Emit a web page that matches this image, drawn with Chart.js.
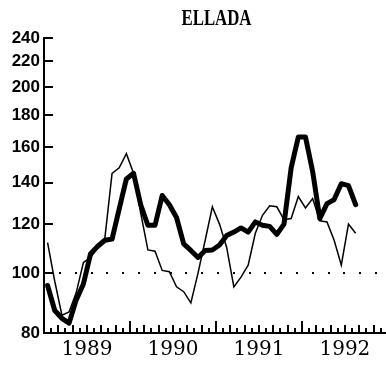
<!DOCTYPE html>
<html>
<head>
<meta charset="utf-8">
<script src="https://cdn.jsdelivr.net/npm/chart.js@4.4.0/dist/chart.umd.min.js"></script>
<style>
  html, body { margin: 0; padding: 0; background: #fff; }
</style>
</head>
<body>
<canvas id="chart" width="386" height="365"></canvas>
<script>
const title = "ELLADA"
const years = ["1989", "1990", "1991", "1992"]
const yTicks = [80, 100, 120, 140, 160, 180, 200, 220, 240]
const baseLine = 100

// monthly values, Jan 1989 .. Aug 1992
const thinSeries = [112, 97, 85.5, 86.5, 93, 104, 106, 110, 114, 145, 148, 156,
    145, 125, 109, 108.5, 101, 100.5, 95, 93.3, 89.5, 100, 113, 128,
    120, 110, 95, 98.5, 103, 116, 124, 128.5, 128, 122, 122.5, 133,
    127.5, 132, 121.5, 121, 113, 103, 120, 116]
const thickSeries = [95.5, 87, 84.5, 83, 90.5, 96, 107.5, 110.5, 113, 113.5, 127, 142,
    145, 129, 119.5, 119.5, 133.5, 129, 123, 111.5, 108.8, 106, 108.8, 109,
    111, 115, 116.5, 118.3, 116.5, 121, 119.5, 119, 115.5, 120, 148, 166,
    166, 146, 122.5, 129.5, 131.5, 139.5, 138.5, 129]

const toPoints = (values) => values.map((v, i) => ({ x: i + 0.5, y: v }))

// inward tick marks, the dotted base line and the title
const frame = {
    id: "frame",
    afterDraw(chart) {
        const { ctx, chartArea: a, scales: { x, y } } = chart
        ctx.save()
        ctx.fillStyle = "#000"

        for (const v of yTicks) {
            const py = Math.round(y.getPixelForValue(v))
            ctx.fillRect(a.left, py - 1, 9, 2)
        }

        for (let m = 1; m < 48; m++) {
            const px = Math.round(x.getPixelForValue(m))
            if (px > a.right) break
            const h = m % 12 === 0 ? 12 : (m % 2 === 0 ? 8 : 5)
            ctx.fillRect(px - 1, a.bottom - h, 2, h)
        }

        const by = Math.round(y.getPixelForValue(baseLine))
        for (let px = a.left + 15; px < a.right; px += 15.8) {
            ctx.fillRect(Math.round(px), by - 1, 2, 2)
        }

        ctx.font = "bold 16px 'Liberation Serif'"
        ctx.textAlign = "center"
        ctx.textBaseline = "alphabetic"
        ctx.translate((a.left + a.right) / 2 + 2, 25)
        ctx.scale(1.05, 1.4)
        ctx.fillText(title, 0, 0)
        ctx.restore()
    }
}

new Chart(document.getElementById("chart"), {
    type: "line",
    data: {
        datasets: [
            {
                data: toPoints(thinSeries),
                borderColor: "#000",
                borderWidth: 1.5,
                pointRadius: 0,
                tension: 0,
            },
            {
                data: toPoints(thickSeries),
                borderColor: "#000",
                borderWidth: 5,
                borderJoinStyle: "round",
                borderCapStyle: "round",
                pointRadius: 0,
                tension: 0,
            }
        ]
    },
    options: {
        responsive: false,
        animation: false,
        layout: { padding: { top: 38, right: 1 } },
        plugins: {
            legend: { display: false },
            tooltip: { enabled: false },
        },
        scales: {
            x: {
                type: "linear",
                min: 0,
                max: 47.6,
                grid: { display: false, drawTicks: false },
                border: { color: "#000", width: 2 },
                afterBuildTicks: (scale) => {
                    scale.ticks = years.map((_, i) => ({ value: 6 + 12 * i }))
                },
                afterFit: (scale) => { scale.height = 32 },
                ticks: {
                    autoSkip: false,
                    maxRotation: 0,
                    padding: 5,
                    color: "#000",
                    font: { family: "'DejaVu Serif'", size: 20 },
                    callback: (v) => years[(v - 6) / 12],
                },
            },
            y: {
                type: "logarithmic",
                min: 80,
                max: 240,
                grid: { display: false, drawTicks: false },
                border: { color: "#000", width: 2 },
                afterBuildTicks: (scale) => {
                    scale.ticks = yTicks.map(v => ({ value: v }))
                },
                afterFit: (scale) => { scale.width = 44 },
                ticks: {
                    padding: 4,
                    color: "#000",
                    font: { family: "'Liberation Sans'", size: 17, weight: "bold" },
                    callback: (v) => String(v),
                },
            }
        }
    },
    plugins: [frame]
});
</script>
</body>
</html>
